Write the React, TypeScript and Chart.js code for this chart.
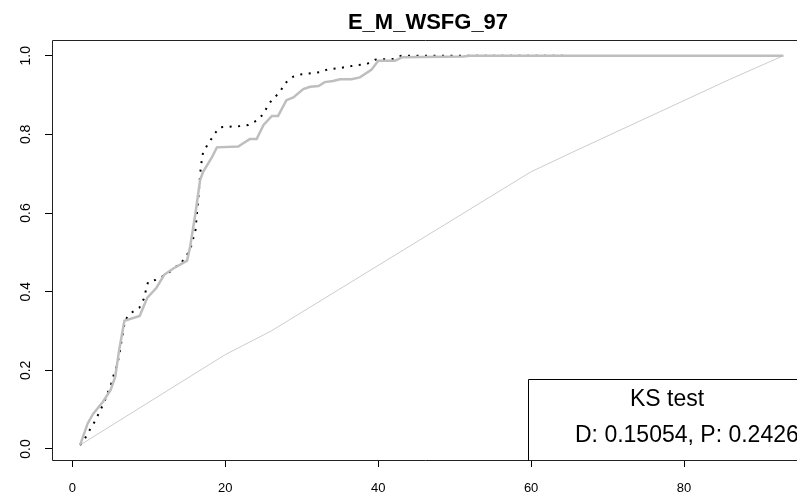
import React, { useEffect, useRef } from "react";
import { Chart, registerables } from "chart.js";

Chart.register(...registerables);

const TITLE = "E_M_WSFG_97";
const LEGEND_TITLE = "KS test";
const LEGEND_TEXT = "D: 0.15054, P: 0.2426";

const X_TICKS = [0, 20, 40, 60, 80];
const Y_TICKS = [0, 0.2, 0.4, 0.6, 0.8, 1.0];

// thick grey ECDF
const grayX = [1, 2, 2.7, 4, 5, 5.6, 6.1, 6.8, 8.8, 9.8, 11, 12, 13.2, 15, 15.4, 16.1, 16.7, 17.1, 18.2, 18.9, 21.7, 22.4, 23.2, 24.1, 25, 26.1, 26.9, 28, 28.9, 30.2, 31.1, 32.2, 33, 34.1, 35, 36.5, 37.6, 39.1, 40, 42.2, 43.1, 51.1, 52, 93];
const grayY = [0.01, 0.065, 0.089, 0.12, 0.15, 0.184, 0.25, 0.326, 0.338, 0.385, 0.41, 0.443, 0.459, 0.479, 0.514, 0.6, 0.684, 0.705, 0.74, 0.767, 0.769, 0.778, 0.788, 0.788, 0.824, 0.847, 0.847, 0.887, 0.894, 0.915, 0.921, 0.923, 0.933, 0.936, 0.94, 0.94, 0.945, 0.964, 0.987, 0.987, 0.996, 0.998, 1.0, 1.0];

// black dotted ECDF
const dotX = [1, 1.65, 2.4, 3, 3.5, 4.1, 4.6, 5.05, 5.4, 5.8, 6.1, 6.5, 6.9, 7.6, 8.75, 9.3, 9.9, 10.9, 12.3, 14.3, 15.4, 16.1, 16.5, 16.8, 17.1, 17.8, 18.65, 19.3, 21.9, 23, 24.1, 25, 25.6, 26.3, 27.1, 27.8, 28.9, 30, 32.4, 33.5, 34.8, 35.9, 37.2, 38.5, 39.6, 42, 43, 65];
const dotY = [0.01, 0.027, 0.053, 0.072, 0.093, 0.116, 0.142, 0.164, 0.188, 0.211, 0.235, 0.284, 0.328, 0.345, 0.359, 0.38, 0.425, 0.43, 0.444, 0.475, 0.506, 0.557, 0.646, 0.718, 0.756, 0.777, 0.803, 0.818, 0.821, 0.824, 0.835, 0.852, 0.875, 0.892, 0.906, 0.93, 0.947, 0.953, 0.958, 0.966, 0.968, 0.972, 0.976, 0.979, 0.99, 0.992, 1.0, 1.0];

// thin reference curve
const refX = [1, 20, 26, 49, 60, 66, 86, 93];
const refY = [0.01, 0.24, 0.3, 0.574, 0.705, 0.76, 0.94, 1.0];

const toPts = (xs: number[], ys: number[]) => xs.map((x, i) => ({ x, y: ys[i] }));

const FONT = "'Liberation Sans', Arial, sans-serif";

const decorPlugin = {
  id: "decor",
  afterDraw(chart: any) {
    const { ctx, chartArea: a } = chart;
    ctx.save();
    // plot frame (right side lies outside the canvas)
    ctx.strokeStyle = "#222";
    ctx.lineWidth = 1;
    ctx.beginPath();
    ctx.moveTo(a.right + 20, a.top + 0.5);
    ctx.lineTo(a.left + 0.5, a.top + 0.5);
    ctx.lineTo(a.left + 0.5, a.bottom + 0.5);
    ctx.lineTo(a.right + 20, a.bottom + 0.5);
    ctx.stroke();

    // title
    ctx.fillStyle = "#000";
    ctx.font = `bold 22px ${FONT}`;
    ctx.textAlign = "center";
    ctx.textBaseline = "alphabetic";
    ctx.fillText(TITLE, 428, 29);

    // legend box
    const lx = 528.5;
    const ly = 379.5;
    ctx.fillStyle = "#fff";
    ctx.fillRect(lx, ly, 400, a.bottom - ly);
    ctx.strokeStyle = "#000";
    ctx.beginPath();
    ctx.moveTo(lx + 400, ly);
    ctx.lineTo(lx, ly);
    ctx.lineTo(lx, a.bottom + 0.5);
    ctx.stroke();
    ctx.fillStyle = "#000";
    ctx.font = `23px ${FONT}`;
    ctx.textAlign = "center";
    ctx.fillText(LEGEND_TITLE, 667, 405.5);
    ctx.textAlign = "left";
    ctx.fillText(LEGEND_TEXT, 575, 442);
    ctx.restore();
  },
};

export default function App() {
  const ref = useRef<HTMLCanvasElement | null>(null);

  useEffect(() => {
    if (!ref.current) return;
    const chart = new Chart(ref.current, {
      type: "line",
      data: {
        datasets: [
          {
            data: toPts(grayX, grayY),
            borderColor: "#bebebe",
            borderWidth: 2.5,
            pointRadius: 0,
            tension: 0,
            fill: false,
          },
          {
            data: toPts(dotX, dotY),
            borderColor: "#000",
            borderWidth: 2,
            borderDash: [2, 6.5],
            borderCapStyle: "butt",
            pointRadius: 0,
            tension: 0,
            fill: false,
          },
          {
            data: toPts(refX, refY),
            borderColor: "#cccccc",
            borderWidth: 1,
            pointRadius: 0,
            tension: 0,
            fill: false,
          },
        ],
      },
      options: {
        responsive: false,
        animation: false,
        devicePixelRatio: 1,
        layout: { padding: { top: 40, right: 0, left: 0, bottom: 0 } },
        plugins: {
          legend: { display: false },
          tooltip: { enabled: false },
          title: { display: false },
        },
        scales: {
          x: {
            type: "linear",
            min: -2.67,
            max: 94.78,
            afterBuildTicks: (s: any) => {
              s.ticks = X_TICKS.map((v) => ({ value: v }));
            },
            afterFit: (s: any) => {
              s.height = 38;
            },
            border: { display: false },
            grid: {
              display: true,
              drawOnChartArea: false,
              drawTicks: true,
              tickLength: 7,
              tickColor: "#000",
              tickWidth: 1,
            },
            ticks: {
              color: "#000",
              font: { family: FONT, size: 13 },
              padding: 14,
              maxRotation: 0,
              minRotation: 0,
              callback: (v: any) => String(v),
            },
          },
          y: {
            type: "linear",
            min: -0.028,
            max: 1.04,
            afterBuildTicks: (s: any) => {
              s.ticks = Y_TICKS.map((v) => ({ value: v }));
            },
            afterFit: (s: any) => {
              s.width = 52;
            },
            border: { display: false },
            grid: {
              display: true,
              drawOnChartArea: false,
              drawTicks: true,
              tickLength: 7,
              tickColor: "#000",
              tickWidth: 1,
            },
            ticks: {
              color: "#000",
              font: { family: FONT, size: 14 },
              padding: 9,
              minRotation: 90,
              maxRotation: 90,
              crossAlign: "center",
              callback: (v: any) => Number(v).toFixed(1),
            },
          },
        },
      },
      plugins: [decorPlugin],
    } as any);
    return () => chart.destroy();
  }, []);

  return (
    <div style={{ position: "absolute", left: 0, top: 0, width: 797, height: 498, background: "#fff" }}>
      <canvas ref={ref} width={797} height={498} />
    </div>
  );
}
